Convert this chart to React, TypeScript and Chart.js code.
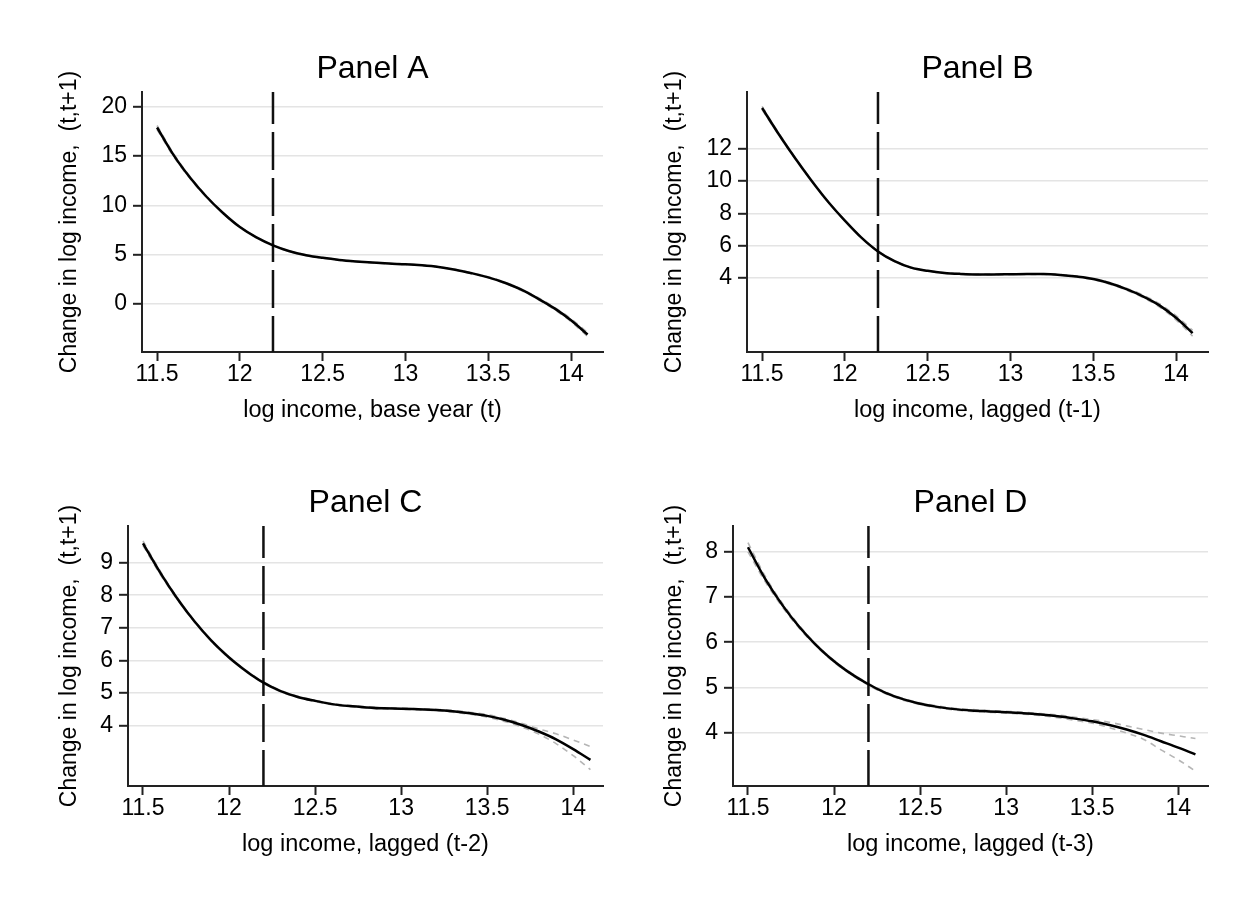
import { useEffect, useRef } from "react";
import Chart from "chart.js/auto";

// log income grid shared by all panels
const xValues = [
  11.5, 11.6, 11.7, 11.8, 11.9, 12.0, 12.1, 12.2, 12.3, 12.4, 12.5, 12.6, 12.7, 12.8,
  12.9, 13.0, 13.1, 13.2, 13.3, 13.4, 13.5, 13.6, 13.7, 13.8, 13.9, 14.0, 14.1,
];

// Panel A: base year (t)
const panelAFit = [
  17.9, 15.1, 12.8, 10.85, 9.2, 7.8, 6.75, 5.95, 5.35, 4.95, 4.68, 4.47, 4.32, 4.2,
  4.1, 4.03, 3.92, 3.75, 3.48, 3.12, 2.7, 2.15, 1.45, 0.55, -0.45, -1.65, -3.1,
];
const panelAHi = [
  18.1, 15.25, 12.9, 10.91, 9.25, 7.84, 6.78, 5.98, 5.38, 4.98, 4.71, 4.5, 4.35, 4.23,
  4.13, 4.06, 3.95, 3.78, 3.51, 3.16, 2.75, 2.21, 1.53, 0.65, -0.33, -1.5, -2.9,
];
const panelALo = [
  17.7, 14.95, 12.7, 10.79, 9.15, 7.76, 6.72, 5.92, 5.32, 4.92, 4.65, 4.44, 4.29, 4.17,
  4.07, 4.0, 3.89, 3.72, 3.45, 3.08, 2.65, 2.09, 1.37, 0.45, -0.57, -1.8, -3.3,
];

// Panel B: lagged (t-1)
const panelBFit = [
  14.5, 12.9, 11.4, 10.0, 8.7, 7.55, 6.5, 5.65, 5.05, 4.65, 4.45, 4.32, 4.26, 4.23,
  4.23, 4.24, 4.25, 4.25, 4.2, 4.1, 3.95, 3.68, 3.32, 2.88, 2.32, 1.55, 0.6,
];
const panelBHi = [
  14.6, 12.96, 11.44, 10.03, 8.72, 7.57, 6.52, 5.67, 5.07, 4.67, 4.47, 4.34, 4.28, 4.25,
  4.25, 4.26, 4.27, 4.27, 4.22, 4.13, 3.99, 3.73, 3.38, 2.96, 2.42, 1.68, 0.78,
];
const panelBLo = [
  14.4, 12.84, 11.36, 9.97, 8.68, 7.53, 6.48, 5.63, 5.03, 4.63, 4.43, 4.3, 4.24, 4.21,
  4.21, 4.22, 4.23, 4.23, 4.18, 4.07, 3.91, 3.63, 3.26, 2.8, 2.22, 1.42, 0.42,
];

// Panel C: lagged (t-2)
const panelCFit = [
  9.59, 8.69, 7.89, 7.19, 6.59, 6.09, 5.67, 5.32, 5.06, 4.88, 4.76, 4.66, 4.6, 4.56,
  4.53, 4.52, 4.5, 4.48, 4.44, 4.38, 4.3, 4.18, 4.02, 3.82, 3.58, 3.28, 2.95,
];
const panelCHi = [
  9.66, 8.74, 7.92, 7.21, 6.61, 6.11, 5.69, 5.34, 5.08, 4.9, 4.78, 4.68, 4.62, 4.58,
  4.55, 4.54, 4.52, 4.5, 4.47, 4.41, 4.34, 4.22, 4.07, 3.9, 3.75, 3.56, 3.36,
];
const panelCLo = [
  9.52, 8.64, 7.86, 7.17, 6.57, 6.07, 5.65, 5.3, 5.04, 4.86, 4.74, 4.64, 4.58, 4.54,
  4.51, 4.5, 4.48, 4.46, 4.41, 4.35, 4.26, 4.13, 3.96, 3.74, 3.45, 3.08, 2.65,
];

// Panel D: lagged (t-3)
const panelDFit = [
  8.1, 7.4, 6.82, 6.33, 5.92, 5.58, 5.3, 5.07, 4.88, 4.74, 4.64, 4.57, 4.52, 4.49,
  4.47, 4.45, 4.43, 4.4, 4.36, 4.31, 4.25, 4.17, 4.07, 3.95, 3.81, 3.67, 3.52,
];
const panelDHi = [
  8.2, 7.46, 6.86, 6.36, 5.94, 5.6, 5.32, 5.09, 4.9, 4.76, 4.66, 4.59, 4.54, 4.51,
  4.49, 4.47, 4.45, 4.42, 4.39, 4.34, 4.29, 4.23, 4.15, 4.07, 3.99, 3.93, 3.87,
];
const panelDLo = [
  8.0, 7.34, 6.78, 6.3, 5.9, 5.56, 5.28, 5.05, 4.86, 4.72, 4.62, 4.55, 4.5, 4.47,
  4.45, 4.43, 4.41, 4.38, 4.33, 4.27, 4.21, 4.11, 3.99, 3.85, 3.62, 3.4, 3.15,
];

const xTicks = [11.5, 12, 12.5, 13, 13.5, 14];
const yTicksA = [0, 5, 10, 15, 20];
const yTicksB = [4, 6, 8, 10, 12];
const yTicksC = [4, 5, 6, 7, 8, 9];
const yTicksD = [4, 5, 6, 7, 8];

const cutoff = 12.2;
const yTitle = "Change in log income,  (t,t+1)";
const FONT = "'Liberation Sans', Arial, Helvetica, sans-serif";

type PanelProps = {
  title: string;
  xTitle: string;
  fit: number[];
  hi: number[];
  lo: number[];
  yTicks: number[];
  yMin: number;
  yMax: number;
  xMin: number;
  xMax: number;
  yAxisWidth: number;
  left: number;
  top: number;
};

function Panel(props: PanelProps) {
  const chartRef = useRef<HTMLCanvasElement>(null);
  const chartInstance = useRef<Chart | null>(null);

  useEffect(() => {
    if (!chartRef.current) return;
    if (chartInstance.current) chartInstance.current.destroy();
    const ctx = chartRef.current.getContext("2d");
    if (!ctx) return;

    const toPoints = (ys: number[]) => xValues.map((x, i) => ({ x, y: ys[i] }));
    const ciStyle = {
      borderColor: "#b5b5b5",
      borderWidth: 1.6,
      borderDash: [6, 5],
      pointRadius: 0,
      cubicInterpolationMode: "monotone" as const,
    };

    chartInstance.current = new Chart(ctx, {
      type: "line",
      data: {
        datasets: [
          {
            data: toPoints(props.fit),
            borderColor: "#000",
            borderWidth: 2.5,
            pointRadius: 0,
            cubicInterpolationMode: "monotone",
          },
          {
            // cutoff marker
            data: [
              { x: cutoff, y: props.yMax },
              { x: cutoff, y: props.yMin },
            ],
            borderColor: "#111",
            borderWidth: 2.5,
            borderDash: [38, 8],
            borderDashOffset: 6,
            pointRadius: 0,
          },
          { data: toPoints(props.hi), ...ciStyle },
          { data: toPoints(props.lo), ...ciStyle },
        ],
      },
      options: {
        responsive: false,
        animation: false,
        events: [],
        layout: { padding: { left: 0, right: 22, top: 0, bottom: 0 }, autoPadding: false },
        scales: {
          x: {
            type: "linear",
            min: props.xMin,
            max: props.xMax,
            afterBuildTicks: (axis: any) => {
              axis.ticks = xTicks.map((v) => ({ value: v }));
            },
            afterFit: (scale: any) => {
              scale.height = 82;
            },
            ticks: {
              callback: (v: any) => String(v),
              font: { family: FONT, size: 23 },
              color: "#000",
              padding: 0,
              maxRotation: 0,
            },
            grid: {
              drawOnChartArea: false,
              drawTicks: true,
              tickLength: 9,
              tickWidth: 2,
              tickColor: "#222",
            },
            border: { display: true, color: "#222", width: 2 },
            title: {
              display: true,
              text: props.xTitle,
              font: { family: FONT, size: 23.5 },
              color: "#000",
              padding: { top: 0, bottom: 9 },
            },
          },
          y: {
            type: "linear",
            min: props.yMin,
            max: props.yMax,
            afterBuildTicks: (axis: any) => {
              axis.ticks = props.yTicks.map((v) => ({ value: v }));
            },
            afterFit: (scale: any) => {
              scale.width = props.yAxisWidth;
            },
            ticks: {
              callback: (v: any) => String(v),
              font: { family: FONT, size: 23 },
              color: "#000",
              padding: 6,
            },
            grid: {
              color: "#e4e4e4",
              lineWidth: 1.6,
              drawTicks: true,
              tickLength: 9,
              tickWidth: 2,
              tickColor: "#222",
            },
            border: { display: true, color: "#222", width: 2 },
            title: {
              display: true,
              text: yTitle,
              font: { family: FONT, size: 23 },
              color: "#000",
              padding: { top: 56, bottom: 0 },
            },
          },
        },
        plugins: {
          legend: { display: false },
          tooltip: { enabled: false },
          title: {
            display: true,
            text: props.title,
            fullSize: false,
            color: "#000",
            font: { family: FONT, size: 32, weight: "normal" },
            padding: { top: 49.7, bottom: 3.9 },
          },
        },
      },
    });

    return () => {
      if (chartInstance.current) {
        chartInstance.current.destroy();
        chartInstance.current = null;
      }
    };
  }, []);

  return (
    <canvas
      ref={chartRef}
      width={625}
      height={434}
      style={{ position: "absolute", left: props.left, top: props.top, display: "block" }}
    />
  );
}

export default function App() {
  return (
    <div
      style={{
        position: "absolute",
        left: 0,
        top: 0,
        width: 1250,
        height: 917,
        background: "#fff",
        overflow: "hidden",
      }}
    >
      <Panel
        title="Panel A"
        xTitle="log income, base year (t)"
        fit={panelAFit}
        hi={panelAHi}
        lo={panelALo}
        yTicks={yTicksA}
        yMin={-4.87}
        yMax={21.5}
        xMin={11.409}
        xMax={14.193}
        yAxisWidth={142}
        left={0}
        top={0}
      />
      <Panel
        title="Panel B"
        xTitle="log income, lagged (t-1)"
        fit={panelBFit}
        hi={panelBHi}
        lo={panelBLo}
        yTicks={yTicksB}
        yMin={-0.56}
        yMax={15.49}
        xMin={11.409}
        xMax={14.193}
        yAxisWidth={142}
        left={605}
        top={0}
      />
      <Panel
        title="Panel C"
        xTitle="log income, lagged (t-2)"
        fit={panelCFit}
        hi={panelCHi}
        lo={panelCLo}
        yTicks={yTicksC}
        yMin={2.15}
        yMax={10.12}
        xMin={11.413}
        xMax={14.173}
        yAxisWidth={128}
        left={0}
        top={434}
      />
      <Panel
        title="Panel D"
        xTitle="log income, lagged (t-3)"
        fit={panelDFit}
        hi={panelDHi}
        lo={panelDLo}
        yTicks={yTicksD}
        yMin={2.82}
        yMax={8.57}
        xMin={11.413}
        xMax={14.173}
        yAxisWidth={128}
        left={605}
        top={434}
      />
    </div>
  );
}
